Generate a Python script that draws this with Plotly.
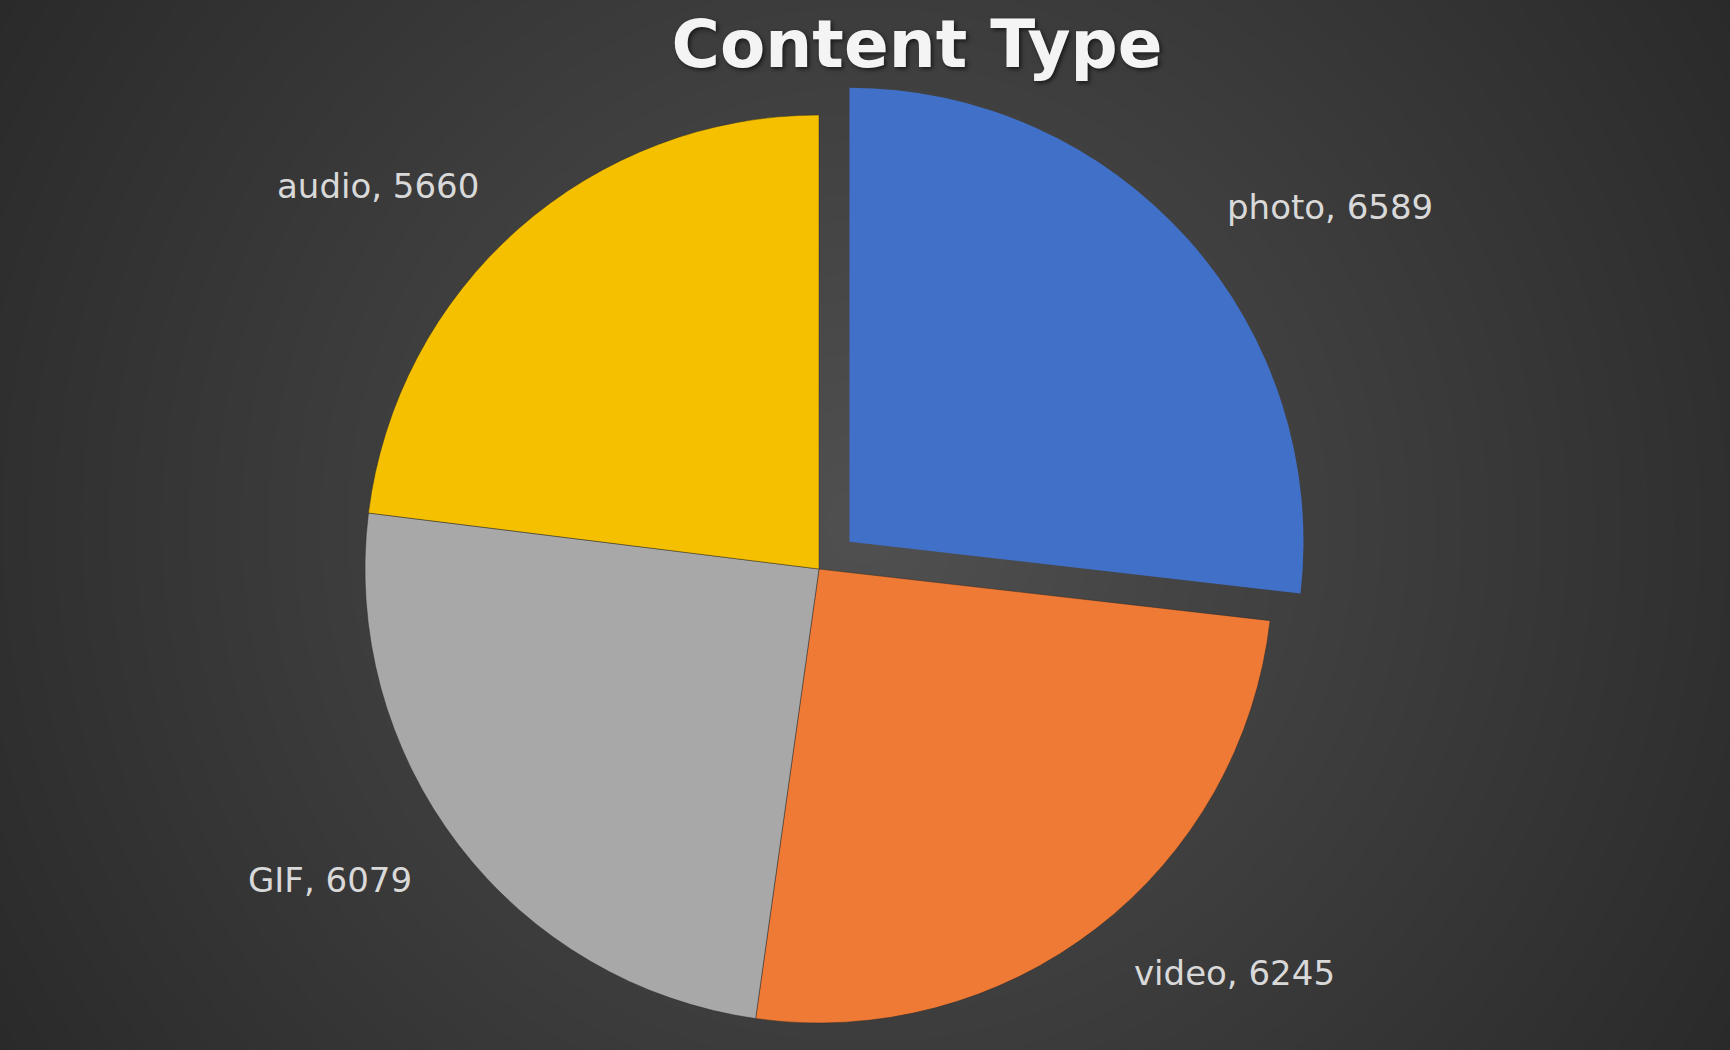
import math
import plotly.graph_objects as go

# ---- data ----
labels = ["photo", "video", "GIF", "audio"]
values = [6589, 6245, 6079, 5660]
colors = ["#4070c8", "#ee7a35", "#a8a8a8", "#f5c000"]
pulls = [0.09, 0, 0, 0]
title_text = "Content Type"

# ---- layout geometry (pixels) ----
W, H = 1730, 1050
cx, cy, r = 819, 569, 454

fig = go.Figure()

# radial background gradient made of concentric ellipses
bg_cx, bg_cy = 865, 525
Rmax = math.hypot(bg_cx, bg_cy) * 1.05
N = 80
c_out, c_in = 42, 80
shapes = []
for i in range(N):
    rr = Rmax * (1 - i / N)
    t = min(rr / math.hypot(bg_cx, bg_cy), 1.0)
    g = round(c_in + (c_out - c_in) * t)
    col = f"rgb({g},{g},{g})"
    shapes.append(dict(type="circle", xref="paper", yref="paper", layer="below",
                       x0=(bg_cx - rr) / W, x1=(bg_cx + rr) / W,
                       y0=1 - (bg_cy + rr) / H, y1=1 - (bg_cy - rr) / H,
                       fillcolor=col, line=dict(width=0)))

def dom(x_c, y_c):
    return dict(x=[(x_c - r) / W, (x_c + r) / W],
                y=[1 - (y_c + r) / H, 1 - (y_c - r) / H])

total = sum(values)
edge = "rgba(40,40,40,0.45)"

# main pie (non-pulled slices)
main_colors = [c if p == 0 else "rgba(0,0,0,0)" for c, p in zip(colors, pulls)]
main_lw = [1 if p == 0 else 0 for p in pulls]
fig.add_trace(go.Pie(labels=labels, values=values, sort=False, direction="clockwise",
                     rotation=0, domain=dom(cx, cy), textinfo="none",
                     marker=dict(colors=main_colors, line=dict(color=edge, width=main_lw)),
                     showlegend=False))

# pulled slices, drawn as a shifted copy of the pie
cum = 0
mids = []
for v in values:
    mids.append((cum + v / 2) / total * 2 * math.pi)
    cum += v
for i, p in enumerate(pulls):
    if p > 0:
        dx = p * r * math.sin(mids[i])
        dy = -p * r * math.cos(mids[i])
        cols = ["rgba(0,0,0,0)"] * len(values)
        cols[i] = colors[i]
        lw = [0] * len(values)
        fig.add_trace(go.Pie(labels=labels, values=values, sort=False, direction="clockwise",
                             rotation=0, domain=dom(cx + dx, cy + dy), textinfo="none",
                             hoverinfo="skip",
                             marker=dict(colors=cols, line=dict(color=edge, width=lw)),
                             showlegend=False))

# data labels placed along each slice's mid-angle
annotations = []
for i, (lab, v) in enumerate(zip(labels, values)):
    k = 1.125 + pulls[i] * 0.8
    s, c = math.sin(mids[i]), math.cos(mids[i])
    px = cx + k * r * s
    py = cy - k * r * c
    annotations.append(dict(text=f"{lab}, {v}", xref="paper", yref="paper",
                            x=px / W, y=1 - py / H, showarrow=False,
                            xanchor="left" if s > 0 else "right", yanchor="middle",
                            font=dict(family="DejaVu Sans", size=34, color="#d9d9d9")))

fig.update_layout(
    width=W, height=H,
    margin=dict(l=0, r=0, t=0, b=0),
    paper_bgcolor="rgb(42,42,42)",
    plot_bgcolor="rgba(0,0,0,0)",
    shapes=shapes,
    annotations=annotations,
    title=dict(text=title_text, x=917 / W, xanchor="center", y=1 - 44 / H, yanchor="middle",
               font=dict(family="DejaVu Sans", size=66, color="#f4f4f4", weight="bold",
                         shadow="2px 2px 4px rgba(0,0,0,0.6)")),
)

fig.write_html("out.html", config={"displayModeBar": False},
               post_script="document.body.style.margin='0';document.body.style.background='rgb(42,42,42)';")
